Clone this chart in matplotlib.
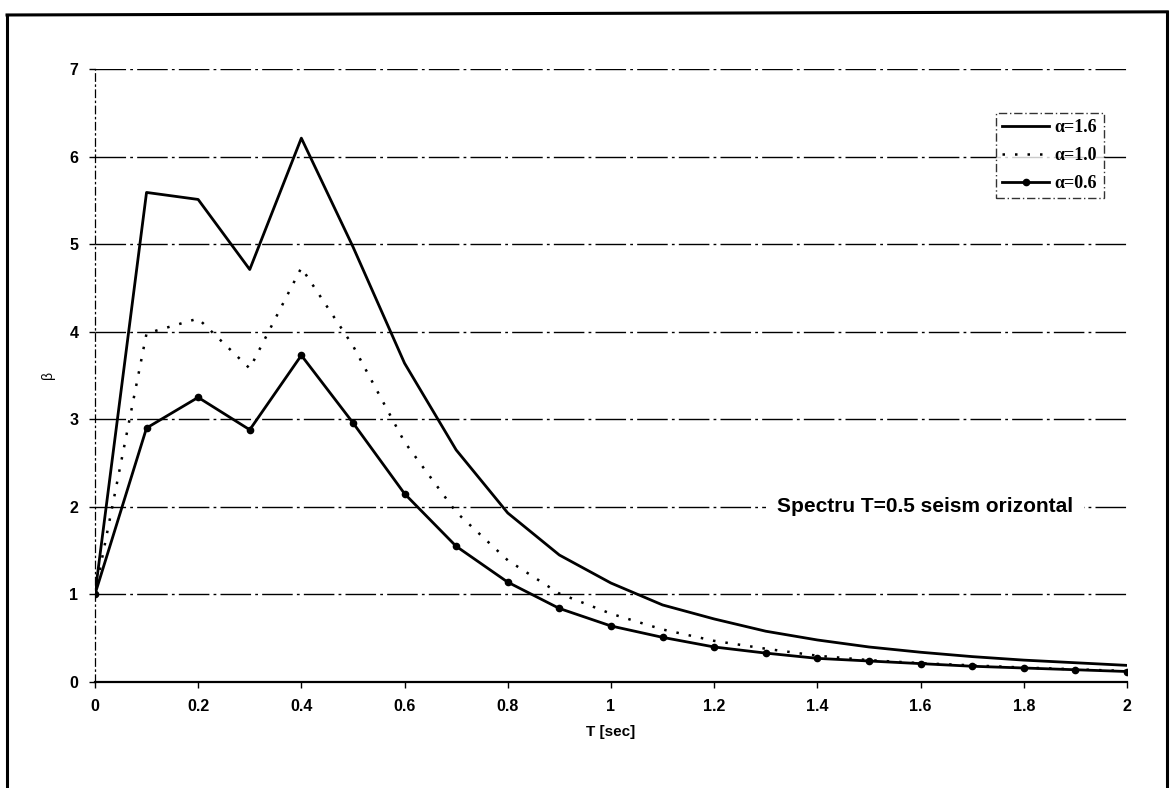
import numpy as np
import matplotlib
matplotlib.use('Agg')
import matplotlib.pyplot as plt
from matplotlib.lines import Line2D

# period values [sec]
T = [0.0, 0.1, 0.2, 0.3, 0.4, 0.5, 0.6, 0.7, 0.8, 0.9, 1.0,
     1.1, 1.2, 1.3, 1.4, 1.5, 1.6, 1.7, 1.8, 1.9, 2.0]

# beta spectra
beta_16 = [1.0, 5.59, 5.51, 4.71, 6.21, 4.97, 3.64, 2.65, 1.93, 1.45, 1.13,
           0.88, 0.72, 0.58, 0.48, 0.40, 0.34, 0.29, 0.25, 0.22, 0.19]
beta_10 = [1.0, 3.98, 4.15, 3.58, 4.73, 3.84, 2.74, 1.94, 1.39, 1.01, 0.78,
           0.60, 0.47, 0.38, 0.30, 0.25, 0.215, 0.19, 0.165, 0.145, 0.125]
beta_06 = [1.0, 2.90, 3.25, 2.88, 3.73, 2.96, 2.15, 1.55, 1.14, 0.84, 0.64,
           0.51, 0.40, 0.33, 0.27, 0.24, 0.21, 0.18, 0.16, 0.14, 0.12]

labels = ['\u03b1=1.6', '\u03b1=1.0', '\u03b1=0.6']
xticks = [0, 0.2, 0.4, 0.6, 0.8, 1, 1.2, 1.4, 1.6, 1.8, 2]
xticklabels = ['0', '0.2', '0.4', '0.6', '0.8', '1', '1.2', '1.4', '1.6', '1.8', '2']
yticks = [0, 1, 2, 3, 4, 5, 6, 7]

plt.rcParams['font.family'] = ['Liberation Sans', 'DejaVu Sans']

fig = plt.figure(figsize=(11.72, 7.88), dpi=100)
ax = fig.add_axes([0.081, 0.1345, 0.8806, 0.778])

# horizontal grid, dash-dot like the scanned original
for yv in yticks[1:]:
    ax.axhline(yv, color='black', lw=1.0, ls=(0, (22, 3, 2, 3)), zorder=1)

ax.plot(T, beta_16, color='black', lw=2.0, label=labels[0], zorder=3)
ax.plot(T, beta_10, color='black', lw=1.8, ls=(0, (1, 4)), label=labels[1], zorder=3)
ax.plot(T, beta_06, color='black', lw=2.0, marker='o', ms=4.5, label=labels[2], zorder=3)

ax.set_xlim(0, 2)
ax.set_ylim(0, 7)
ax.set_xticks(xticks)
ax.set_xticklabels(xticklabels)
ax.set_yticks(yticks)
ax.tick_params(axis='both', labelsize=11.5, length=4, width=1, direction='out', pad=8)
for lab in ax.get_xticklabels() + ax.get_yticklabels():
    lab.set_fontweight('bold')

for s in ['top', 'right']:
    ax.spines[s].set_visible(False)
ax.spines['left'].set_linestyle((0, (6, 3, 1, 3)))
ax.spines['left'].set_linewidth(0.9)
ax.spines['bottom'].set_linewidth(1.6)

ax.set_xlabel('T [sec]', fontsize=11, fontweight='bold', labelpad=8)
ax.set_ylabel('\u03b2', fontsize=10, labelpad=10)

leg = ax.legend(loc='upper right', bbox_to_anchor=(0.986, 0.943),
                prop={'family': 'Liberation Serif', 'size': 13, 'weight': 'bold'},
                frameon=True, fancybox=False, edgecolor='black',
                handlelength=2.6, borderpad=0.35, labelspacing=0.6, handletextpad=0.3)
leg.get_frame().set_linewidth(1.0)
leg.get_frame().set_linestyle((0, (6, 2, 1, 2)))

ax.text(1.608, 2.0, 'Spectru T=0.5 seism orizontal', transform=ax.transData,
        fontsize=15, fontweight='bold', va='center', ha='center',
        bbox=dict(facecolor='white', edgecolor='none', pad=8), zorder=2)

# outer frame of the scanned figure
fig.add_artist(Line2D([0.006, 0.006], [-0.01, 0.981], color='black', lw=2.2))
fig.add_artist(Line2D([0.006, 0.996], [0.981, 0.985], color='black', lw=2.2))
fig.add_artist(Line2D([0.996, 0.996], [-0.01, 0.985], color='black', lw=2.2))

fig.savefig('out.png', dpi=100)
